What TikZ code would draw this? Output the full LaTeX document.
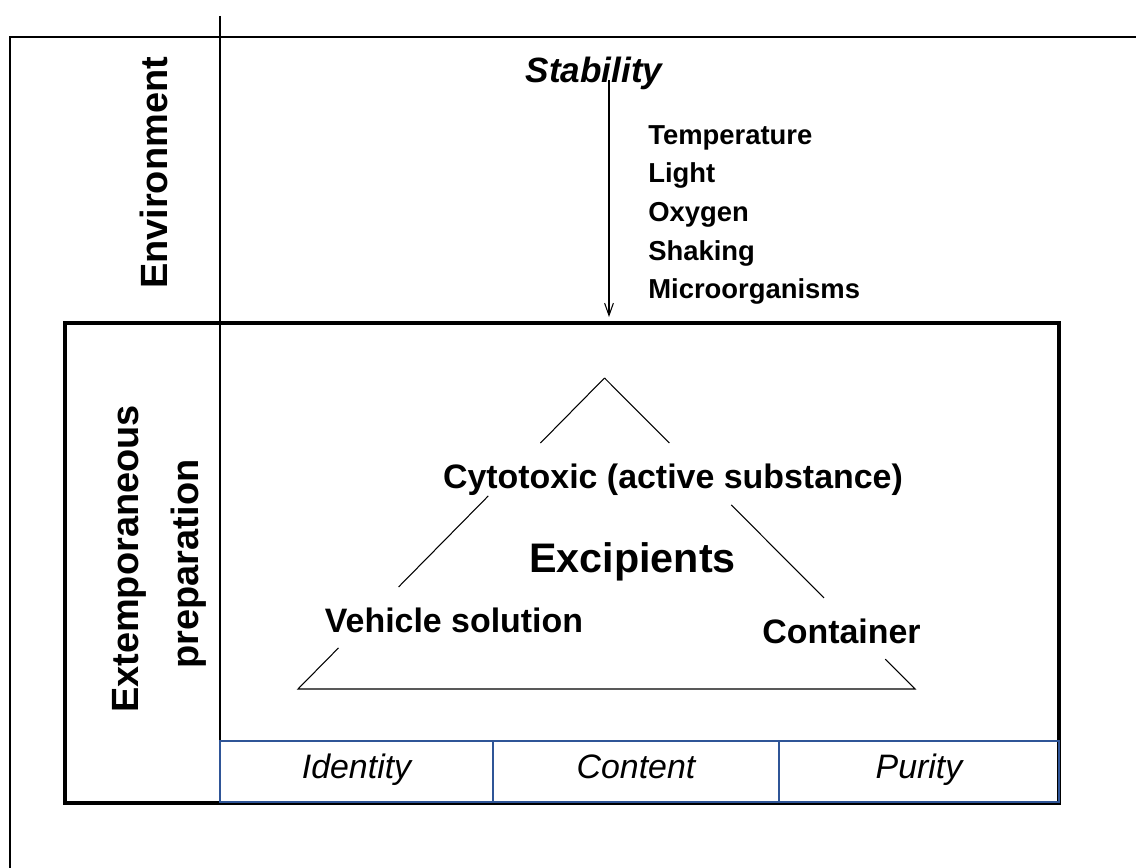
\documentclass[tikz,border=0pt]{standalone}
\usepackage{fontspec}
\setmainfont{Liberation Sans}
\usetikzlibrary{arrows.meta,calc}

\definecolor{cellblue}{RGB}{47,85,151}

\begin{document}
\begin{tikzpicture}[
x=0.02cm, y=-0.02cm,
frame/.style={line width=0.75pt},
tri/.style={line width=0.6pt},
prepbox/.style={line width=2pt},
cell/.style={draw=cellblue, line width=1.2pt, minimum height=1.22cm, inner sep=0pt, text height=0.8em, text depth=0pt, font=\fontsize{19.3}{23}\selectfont\itshape},
sidelabel/.style={rotate=90, anchor=base, inner sep=0pt, font=\fontsize{21.6}{26}\selectfont\bfseries},
factor/.style={anchor=base west, inner sep=0pt, font=\fontsize{15.6}{19}\selectfont\bfseries},
part/.style={anchor=base, inner sep=0pt, font=\fontsize{19.3}{23}\selectfont\bfseries},
arrow/.style={-{Straight Barb[length=7pt,width=5pt]}, line width=0.6pt}
]
\useasboundingbox (0,0) rectangle (1136,868);

% frame
\draw[frame] (1136,37) -- (10,37) -- (10,868);
\draw[tri] (220,16) -- (220,741);

% environment
\node[sidelabel] (env) at (167,173) {Environment};
\node[anchor=base, inner sep=0pt, font=\fontsize{20}{24}\selectfont\bfseries\itshape] (stab) at (594,83) {Stability};
\node[factor] (temp) at (648,145) {Temperature};
\node[factor] (light) at (648,183) {Light};
\node[factor] (oxygen) at (648,222) {Oxygen};
\node[factor] (shaking) at (648,260) {Shaking};
\node[factor] (micro) at (648,298) {Microorganisms};
\coordinate (stabtop) at (609,80);
\coordinate (stabtip) at (609,317);
\draw[arrow] (stabtop) -- (stabtip);

% extemporaneous preparation
\draw[prepbox] (65,323) rectangle (1059,803);
\node[sidelabel] (extemp) at (138,559) {Extemporaneous};
\node[sidelabel] (prep) at (198,564) {preparation};

% triangle
\coordinate (apex) at (604.5,378);
\coordinate (tl) at (298,689);
\coordinate (tr) at (915,689);
\draw[tri] (apex) -- ($(apex)!0.209!(tl)$);
\draw[tri] ($(apex)!0.379!(tl)$) -- ($(apex)!0.672!(tl)$);
\draw[tri] ($(apex)!0.868!(tl)$) -- (tl) -- (tr) -- ($(apex)!0.904!(tr)$);
\draw[tri] ($(apex)!0.707!(tr)$) -- ($(apex)!0.408!(tr)$);
\draw[tri] ($(apex)!0.209!(tr)$) -- (apex);
\node[part] (cyto) at (673,488) {Cytotoxic (active substance)};
\node[part, font=\fontsize{23.5}{28}\selectfont\bfseries] (excip) at (632.5,572) {Excipients};
\node[part] (vehicle) at (454,632) {Vehicle solution};
\node[part] (container) at (841.5,643) {Container};

% quality row
\node[cell, minimum width=5.46cm] (identity) at (356.5,771.5) {Identity};
\node[cell, minimum width=5.72cm] (content) at (636,771.5) {Content};
\node[cell, minimum width=5.60cm] (purity) at (919,771.5) {Purity};
\end{tikzpicture}
\end{document}
